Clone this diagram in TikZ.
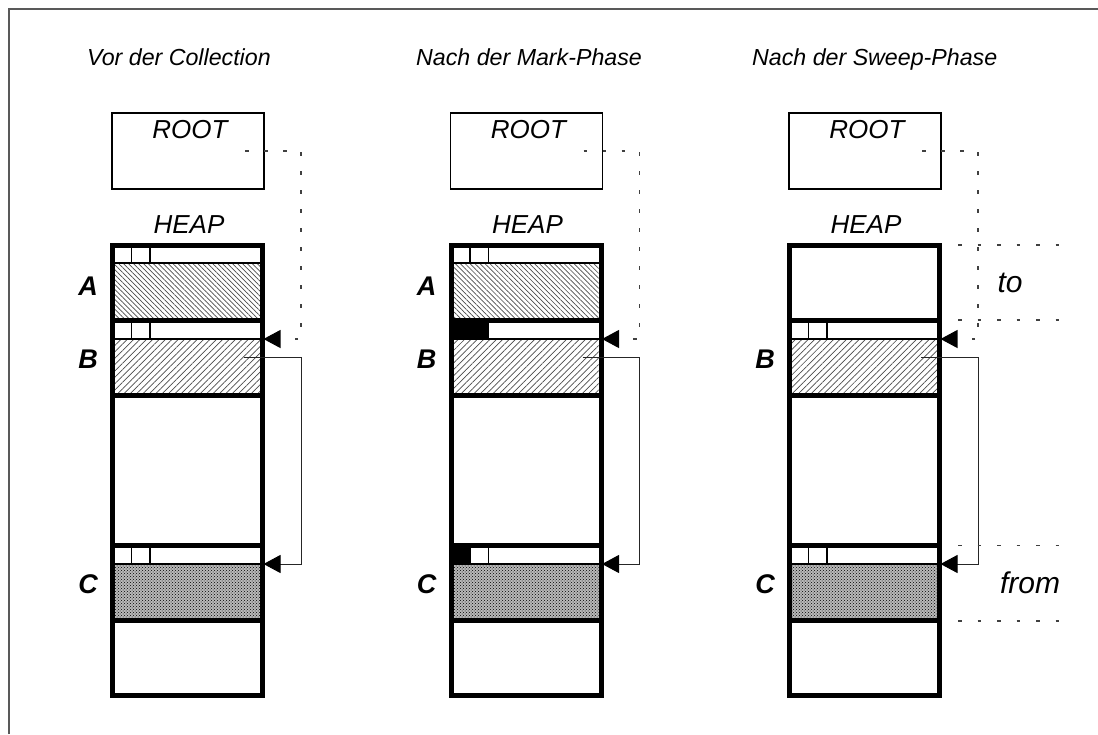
\documentclass[tikz,border=0pt]{standalone}
\usepackage{fontspec}
\setmainfont{Liberation Sans}
\usetikzlibrary{arrows.meta,patterns,patterns.meta}
\tikzset{
  frameline/.style={draw=black!65, line width=1.2pt},
  rootbox/.style={draw, line width=1.6pt, minimum width=152pt, minimum height=76pt, inner sep=0pt},
  heapbox/.style={draw, line width=5pt, minimum width=150pt, minimum height=450pt, inner sep=0pt},
  sepline/.style={line width=5pt},
  hdrline/.style={line width=1.5pt},
  lbl/.style={font=\fontsize{26}{29}\selectfont\itshape, inner sep=0pt},
  titlelbl/.style={font=\fontsize{23.2}{26}\selectfont\itshape, inner sep=0pt},
  blocklbl/.style={font=\fontsize{27}{30}\selectfont\bfseries\itshape, inner sep=0pt},
  spacelbl/.style={font=\fontsize{30}{34}\selectfont\itshape, inner sep=0pt},
  patA/.style={pattern={Lines[angle=-45,distance=3.5pt,line width=0.7pt]}, pattern color=black!70},
  patB/.style={pattern={Lines[angle=45,distance=4.5pt,line width=0.7pt]}, pattern color=black!70},
  patC/.style={fill=gray!55, postaction={pattern=crosshatch dots, pattern color=black}},
  dotline/.style={draw=black!75, line width=1.1pt, dash pattern=on 3.5pt off 15.5pt},
  spaceline/.style={draw=black!75, line width=1.1pt, dash pattern=on 3.5pt off 16pt},
  ptr/.style={draw=black!85, line width=1pt},
  tiptri/.style={-{Triangle[length=17pt,width=18pt,black]}},
}
\newcommand\RootPart[1]{%
  \node[rootbox] (#1root) at (188,151) {};
  \node[lbl, anchor=base] (#1roottxt) at (190,138) {ROOT};
  \node[lbl, anchor=base] (#1heaptxt) at (189,233) {HEAP};
  \coordinate (#1rootptr) at (245,151);
}
\newcommand\BlockA[1]{%
  \path[patA] (115,263.75) rectangle (260,317.5);
  \draw[hdrline] (112.5,263) -- (262.5,263);
  \draw[hdrline] (131.5,247.5) -- (131.5,263) (150,247.5) -- (150,263);
  \node[blocklbl, anchor=base] (#1labA) at (88,295) {A};
}
\newcommand\BlockBC{%
  \path[patB] (115,339.75) rectangle (260,392.5);
  \path[patC] (115,564.75) rectangle (260,618);
  \draw[hdrline] (112.5,339) -- (262.5,339) (112.5,564) -- (262.5,564);
  \draw[hdrline] (131.5,322.5) -- (131.5,339) (150,322.5) -- (150,339);
  \draw[hdrline] (131.5,548) -- (131.5,564) (150,548) -- (150,564);
}
\newcommand\HeapFrame[1]{%
  \draw[sepline] (112.5,320) -- (262.5,320) (112.5,395) -- (262.5,395)
                 (112.5,545.5) -- (262.5,545.5) (112.5,620.5) -- (262.5,620.5);
  \node[heapbox] (#1heap) at (187.5,470) {};
  \node[blocklbl, anchor=base] (#1labB) at (88,368) {B};
  \node[blocklbl, anchor=base] (#1labC) at (88,593) {C};
  \coordinate (#1Bin) at (263.5,339);
  \coordinate (#1Cin) at (263.5,564);
  \coordinate (#1Bptr) at (244,357);
  \draw[dotline, tiptri] (#1rootptr) -- (301,151) |- (#1Bin);
  \draw[ptr, tiptri] (#1Bptr) -- (301,357) |- (#1Cin);
}
\begin{document}
\begin{tikzpicture}[x=1pt,y=-1pt]
\useasboundingbox (0,0) rectangle (1098,734);
\fill[white] (0,0) rectangle (1098,734);
\draw[frameline] (9,734) -- (9,9) -- (1098,9);

\node[titlelbl, anchor=base west] (t1) at (87,65) {Vor der Collection};
\node[titlelbl, anchor=base west] (t2) at (416,65) {Nach der Mark-Phase};
\node[titlelbl, anchor=base west] (t3) at (752,65) {Nach der Sweep-Phase};

% column 1
\begin{scope}
  \RootPart{c1}
  \BlockA{c1}
  \BlockBC
  \HeapFrame{c1}
\end{scope}

% column 2
\begin{scope}[xshift=338.5pt]
  \RootPart{c2}
  \BlockA{c2}
  \BlockBC
  \fill (115,322.5) rectangle (150,338.25);
  \fill (115,548) rectangle (131.5,563.25);
  \HeapFrame{c2}
\end{scope}

% column 3
\begin{scope}[xshift=677pt]
  \RootPart{c3}
  \BlockBC
  \HeapFrame{c3}
\end{scope}

\coordinate (toA) at (958,245);  \coordinate (toB) at (1060,245);
\coordinate (toC) at (958,320);  \coordinate (toD) at (1060,320);
\coordinate (frA) at (958,545.5); \coordinate (frB) at (1060,545.5);
\coordinate (frC) at (958,621);  \coordinate (frD) at (1060,621);
\draw[spaceline] (toA) -- (toB);
\draw[spaceline] (toC) -- (toD);
\draw[spaceline] (frA) -- (frB);
\draw[spaceline] (frC) -- (frD);
\node[spacelbl, anchor=base] (tolbl) at (1010,292) {to};
\node[spacelbl, anchor=base] (fromlbl) at (1030,593) {from};
\end{tikzpicture}
\end{document}
